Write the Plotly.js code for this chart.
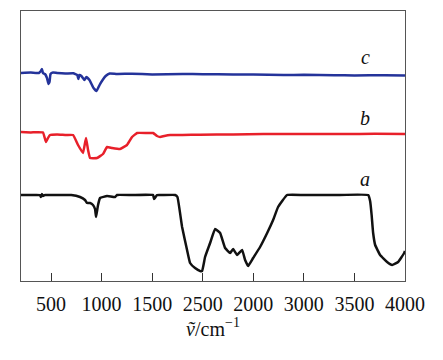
<!DOCTYPE html>
<html><head><meta charset="utf-8">
<script src="https://cdn.plot.ly/plotly-3.0.1.min.js"></script>
<style>html,body{margin:0;padding:0;background:#fff}#chart{width:443px;height:360px}</style>
</head><body><div id="chart"></div>
<script>
// wavenumbers (cm^-1) and relative transmittance (arbitrary units, offset per curve)
const cX = [200,300,380,400,410,420,440,460,475,485,495,520,560,640,720,760,770,780,800,830,850,880,920,950,980,1010,1040,1080,1150,1300,1500,1800,2000,2300,2500,2800,3000,3300,3500,3800,4000];
const cY = [208,208.4,208,210,212,208,207,203,197,199,207,208.5,208,207.5,207.8,206,202,206,205,201,204,201,193,190,196,201,205,207.5,207,207.3,206.6,207,206.8,206.5,206.4,206,206.2,205.7,205.6,205.8,205.5];

const bX = [200,300,420,450,470,490,560,650,718,767,816,846,866,886,955,1014,1054,1103,1182,1251,1301,1351,1450,1509,1548,1578,1620,1677,1800,1974,2300,2600,3000,3400,3700,4000];
const bY = [149,148.6,148.5,139,143,146,146.5,146,146,136,128,143,131,123,123,127,134,133,132,136,144,148,148,148,145,144,145,146,146,146.3,146.5,147,147,147,147.2,147];

const aX = [203,300,391,400,410,420,441,500,600,700,787,836,856,886,915,935,945,955,965,985,1054,1133,1153,1300,1509,1519,1548,1600,1727,1750,1796,1845,1875,1924,1974,1994,2023,2073,2122,2172,2221,2271,2300,2340,2389,2419,2449,2498,2567,2637,2696,2745,2834,3000,3300,3636,3655,3670,3685,3705,3754,3823,3873,3932,3992,4000];
const aY = [86,86,86,84,87,85,86,86,86,86,84,81,78,78,76,72,64,70,76,83,85,84,86,86,86,82,86,86,86,84,54,31,18,13,10,10,24,38,52,48,33,28,32,26,31,21,15,23,34,48,61,74,86,86,86,86,80,66,48,36,26,19,16,19,28,30];

const tickVals = [500,1000,1500,2000,2500,3000,3500,4000];
const tickText = ["500","1000","1500","2500","2000","3000","3500","4000"];

const serif = "'Liberation Serif', 'DejaVu Serif', 'Times New Roman', serif";

const traces = [
  {x:aX, y:aY, mode:'lines', line:{color:'#111111', width:2.5, shape:'spline', smoothing:0.3}, hoverinfo:'skip'},
  {x:bX, y:bY, mode:'lines', line:{color:'#e8202a', width:2.5, shape:'spline', smoothing:0.3}, hoverinfo:'skip'},
  {x:cX, y:cY, mode:'lines', line:{color:'#24339a', width:2.5, shape:'spline', smoothing:0.3}, hoverinfo:'skip'}
];

const layout = {
  width:443, height:360,
  margin:{l:21, r:38, t:11, b:79},
  paper_bgcolor:'#fff', plot_bgcolor:'#fff',
  showlegend:false,
  font:{family:serif},
  xaxis:{
    range:[203,4000], tickvals:tickVals, ticktext:tickText,
    ticks:'inside', ticklen:8, tickwidth:1, tickcolor:'#333',
    ticklabelstandoff:5,
    showline:true, linecolor:'#555', linewidth:1.2, mirror:true,
    showgrid:false, zeroline:false,
    tickfont:{family:serif, size:20, color:'#111'},
    title:{text:'<i>ṽ</i>/cm<sup>−1</sup>', font:{family:serif, size:20, color:'#111'}, standoff:6}
  },
  yaxis:{
    range:[0,270], showticklabels:false, ticks:'',
    showline:true, linecolor:'#555', linewidth:1.2, mirror:true,
    showgrid:false, zeroline:false
  },
  annotations:[
    {x:3606, y:224, text:'<i>c</i>', showarrow:false, font:{family:serif, size:20, color:'#111'}},
    {x:3606, y:163, text:'<i>b</i>', showarrow:false, font:{family:serif, size:20, color:'#111'}},
    {x:3606, y:102, text:'<i>a</i>', showarrow:false, font:{family:serif, size:20, color:'#111'}}
  ]
};
Plotly.newPlot('chart', traces, layout, {staticPlot:true, displayModeBar:false});
</script></body></html>
